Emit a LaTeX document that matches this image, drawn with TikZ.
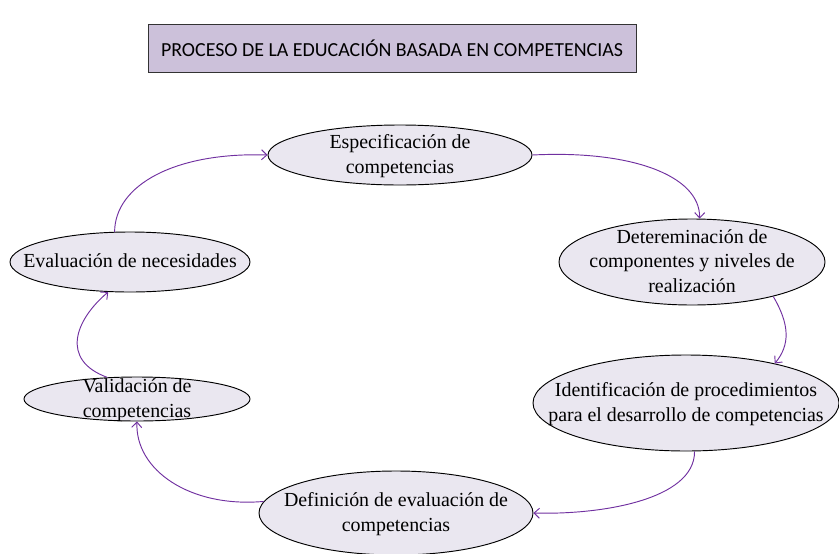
\documentclass[tikz,border=0pt]{standalone}
\usepackage{fontspec}
\setmainfont{Liberation Serif}
\newfontfamily\titlefont{Carlito}
\usetikzlibrary{shapes.geometric,arrows.meta}
\definecolor{lila}{HTML}{CCC1DA}
\definecolor{nube}{HTML}{EAE7F0}
\definecolor{morado}{HTML}{7030A0}
\newcommand{\celltext}[1]{\smash{\makebox[0pt]{\raisebox{-0.3em}{\begin{tabular}{@{}c@{}}#1\end{tabular}}}}}
\tikzset{stage/.style = {draw=black,line width=0.8pt,ellipse,fill=nube,inner sep=0pt,font=\fontsize{17}{21}\selectfont}}
\tikzset{arrow/.style = {-{Straight Barb[length=1.6mm,width=3mm]},draw=morado,line width=0.8pt}}

\begin{document}
\begin{tikzpicture}[x=0.03cm,y=-0.03cm]
	\useasboundingbox (0,0) rectangle (839,553);
	\node[draw=black!80,line width=0.8pt,fill=lila,minimum width=14.64cm,minimum height=1.44cm,font=\titlefont\fontsize{17}{20}\selectfont] (title) at (392,48) {PROCESO DE LA EDUCACIÓN BASADA EN COMPETENCIAS};
	\node[stage,minimum width=7.92cm,minimum height=1.8cm] (esp) at (400,155) {\celltext{Especificación de\\competencias}};
	\node[stage,minimum width=7.98cm,minimum height=2.58cm] (det) at (692,262) {\celltext{Detereminación de\\componentes y niveles de\\realización}};
	\node[stage,minimum width=9.18cm,minimum height=2.88cm] (ide) at (686,403) {\celltext{Identificación de procedimientos\\para el desarrollo de competencias}};
	\node[stage,minimum width=8.22cm,minimum height=2.52cm] (defi) at (396,513) {\celltext{Definición de evaluación de\\competencias}};
	\node[stage,minimum width=6.78cm,minimum height=1.32cm] (val) at (137,399) {\celltext{Validación de\\competencias}};
	\node[stage,minimum width=7.2cm,minimum height=1.8cm] (eva) at (130,262) {\celltext{Evaluación de necesidades}};
	\draw[arrow] (eva.117) .. controls (115,185) and (175,152) .. (esp.west);
	\draw[arrow] (esp.east) .. controls (630,150) and (700,175) .. (det.80);
	\draw[arrow] (det.-23) .. controls (790,325) and (790,345) .. (ide.24);
	\draw[arrow] (ide.-80) .. controls (695,500) and (600,515) .. (defi.east);
	\draw[arrow] (defi.175) .. controls (190,508) and (135,470) .. (val.south);
	\draw[arrow] (val.144) .. controls (60,360) and (75,320) .. (eva.-126);
\end{tikzpicture}
\end{document}
